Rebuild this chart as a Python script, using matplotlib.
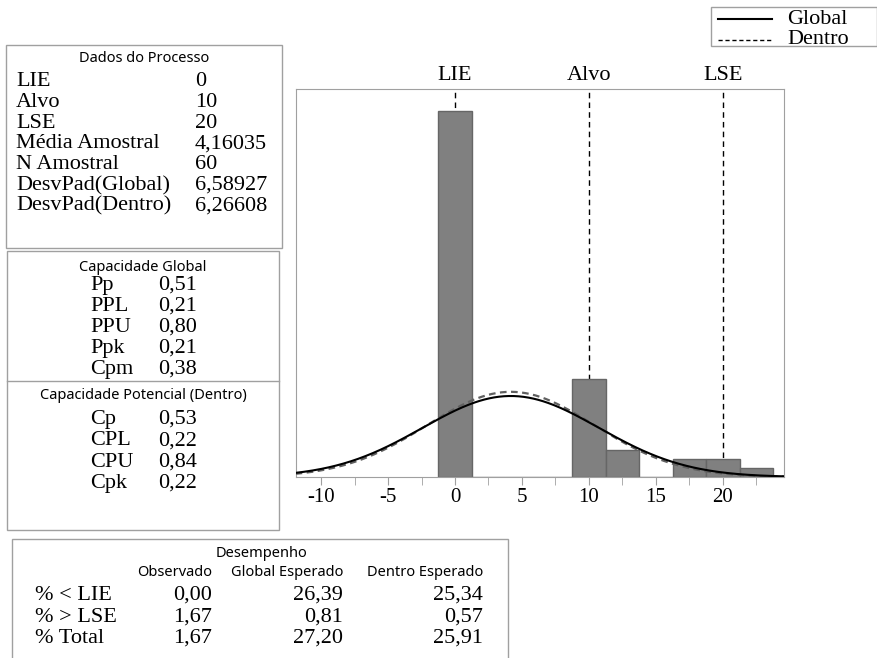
import numpy as np
import matplotlib
matplotlib.use("Agg")
import matplotlib.pyplot as plt
from matplotlib.patches import Rectangle
from matplotlib.lines import Line2D

# --- data ---
bin_centers = [0, 2.5, 5, 7.5, 10, 12.5, 15, 17.5, 20, 22.5]
bin_counts = [41, 0, 0, 0, 11, 3, 0, 2, 2, 1]
bin_width = 2.5

lie, alvo, lse = 0, 10, 20
spec_names = ["LIE", "Alvo", "LSE"]
spec_values = [lie, alvo, lse]

n_amostral = 60
media = 4.16035
sd_global = 6.58927
sd_dentro = 6.26608

dados_labels = ["LIE", "Alvo", "LSE", "Média Amostral", "N Amostral",
                "DesvPad(Global)", "DesvPad(Dentro)"]
dados_values = ["0", "10", "20", "4,16035", "60", "6,58927", "6,26608"]

global_labels = ["Pp", "PPL", "PPU", "Ppk", "Cpm"]
global_values = ["0,51", "0,21", "0,80", "0,21", "0,38"]

dentro_labels = ["Cp", "CPL", "CPU", "Cpk"]
dentro_values = ["0,53", "0,22", "0,84", "0,22"]

desemp_rows = ["% < LIE", "% > LSE", "% Total"]
desemp_cols = ["Observado", "Global Esperado", "Dentro Esperado"]
observado = ["0,00", "1,67", "1,67"]
global_esp = ["26,39", "0,81", "27,20"]
dentro_esp = ["25,34", "0,57", "25,91"]

# --- layout helpers (pixel coords of an 878x658 canvas) ---
W, H = 878, 658
SERIF = "Liberation Serif"
SANS = "Noto Sans"
EDGE = "#a0a0a0"


def fx(x):
    return x / W


def fy(y):
    return 1 - y / H


fig = plt.figure(figsize=(W / 100, H / 100), dpi=100)


def box(x0, y0, x1, y1):
    fig.add_artist(Rectangle((fx(x0), fy(y1)), fx(x1) - fx(x0), fy(y0) - fy(y1),
                             transform=fig.transFigure, fill=False,
                             edgecolor=EDGE, lw=1, clip_on=False))


def hline(x0, x1, y):
    fig.add_artist(Line2D([fx(x0), fx(x1)], [fy(y), fy(y)], transform=fig.transFigure,
                          color=EDGE, lw=1))


def serif(x, y, s, ha="left", size=16):
    fig.text(fx(x), fy(y), s, ha=ha, va="baseline", family=SERIF, fontsize=size)


def sans(x, y, s, ha="center", size=10.5):
    fig.text(fx(x), fy(y), s, ha=ha, va="baseline", family=SANS, fontsize=size)


# --- histogram panel ---
ax = fig.add_axes([fx(296), fy(477), fx(784) - fx(296), fy(89) - fy(477)])
ax.bar(bin_centers, bin_counts, width=bin_width, color="#808080",
       edgecolor="#666666", lw=1, zorder=2)

xs = np.linspace(-11.9, 24.6, 400)
scale = n_amostral * bin_width
y_glob = scale * np.exp(-0.5 * ((xs - media) / sd_global) ** 2) / (sd_global * np.sqrt(2 * np.pi))
y_dent = scale * np.exp(-0.5 * ((xs - media) / sd_dentro) ** 2) / (sd_dentro * np.sqrt(2 * np.pi))
ax.plot(xs, y_dent, color="#606060", lw=1.6, ls=(0, (3, 2)), zorder=3)
ax.plot(xs, y_glob, color="black", lw=1.5, zorder=4)

for name, v in zip(spec_names, spec_values):
    ax.axvline(v, color="black", lw=1, ls=(0, (4, 3)), zorder=1)
    ax.annotate(name, xy=(v, 1.0), xycoords=("data", "axes fraction"),
                xytext=(0, 3), textcoords="offset points", ha="center",
                va="bottom", family=SERIF, fontsize=16)

ax.set_xlim(-11.87, 24.56)
ax.set_ylim(0, 43.5)
ax.set_yticks([])
ax.set_xticks([-10, -5, 0, 5, 10, 15, 20])
ax.set_xticklabels(["-10", "-5", "0", "5", "10", "15", "20"], family=SERIF, fontsize=15)
ax.set_xticks(np.arange(-7.5, 23, 5), minor=True)
ax.tick_params(axis="x", which="both", direction="out", length=6, color=EDGE, pad=2)
for sp in ax.spines.values():
    sp.set_color(EDGE)

# --- legend (top right) ---
box(711, 7, 877, 46)
fig.add_artist(Line2D([fx(718), fx(772)], [fy(19), fy(19)], transform=fig.transFigure,
                      color="black", lw=1.5))
fig.add_artist(Line2D([fx(718), fx(772)], [fy(40), fy(40)], transform=fig.transFigure,
                      color="black", lw=1, ls=(0, (3, 2))))
serif(787, 24, "Global")
serif(787, 44, "Dentro")

# --- Dados do Processo ---
box(6, 45, 282, 248)
sans(144, 62, "Dados do Processo")
for i, (lab, val) in enumerate(zip(dados_labels, dados_values)):
    yb = 86 + 20.8 * i
    serif(16, yb, lab)
    serif(195, yb, val)

# --- Capacidade Global / Potencial ---
box(7, 251, 279, 530)
hline(7, 279, 381)
sans(143, 271, "Capacidade Global")
for i, (lab, val) in enumerate(zip(global_labels, global_values)):
    yb = 290 + 21.0 * i
    serif(90, yb, lab)
    serif(158, yb, val)
sans(143, 399, "Capacidade Potencial (Dentro)")
for i, (lab, val) in enumerate(zip(dentro_labels, dentro_values)):
    yb = 424 + 21.3 * i
    serif(90, yb, lab)
    serif(158, yb, val)

# --- Desempenho ---
box(12, 539, 508, 700)
sans(262, 557, "Desempenho")
col_right = [212, 343, 483]
for c, xr in zip(desemp_cols, col_right):
    sans(xr, 576, c, ha="right")
for i, lab in enumerate(desemp_rows):
    yb = 600 + 21.5 * i
    serif(35, yb, lab)
    for col, xr in zip([observado, global_esp, dentro_esp], col_right):
        serif(xr, yb, col[i], ha="right")

fig.savefig("out.png", dpi=100)
